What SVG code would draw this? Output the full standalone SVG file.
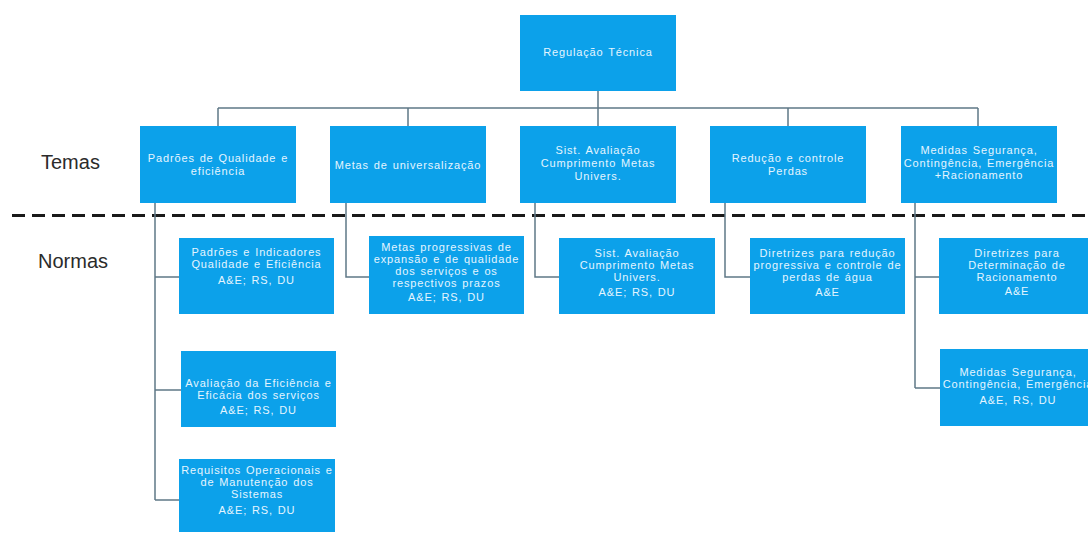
<svg xmlns="http://www.w3.org/2000/svg" width="1088" height="538" viewBox="0 0 1088 538">
  <style>
    .box { fill: #0ca1ea; }
    .t { font-family: "Liberation Sans", Arial, sans-serif; font-size: 11px; fill: #e4f5ff; text-anchor: middle; letter-spacing: 0.85px; word-spacing: 1px; }
    .lbl { font-family: "Liberation Sans", Arial, sans-serif; font-size: 20px; fill: #2b2b2b; }
    .c { fill: none; stroke: #5f7886; stroke-width: 1.5; }
  </style>
  <rect width="1088" height="538" fill="#ffffff"/>

  <!-- row labels and separator -->
  <g id="labels">
    <text class="lbl" x="41" y="169">Temas</text>
    <text class="lbl" x="38" y="268">Normas</text>
    <line x1="12" y1="215.5" x2="1088" y2="215.5" stroke="#1a1a1a" stroke-width="3" stroke-dasharray="13 7"/>
  </g>

  <!-- connectors -->
  <g id="connectors">
    <path class="c" d="M598 91 V108 M218 108 H978 M218 108 V126 M408 108 V126 M598 108 V126 M788 108 V126 M978 108 V126"/>
    <path class="c" d="M155 203 V500 M155 277 H179 M155 390 H181 M155 500 H179"/>
    <path class="c" d="M346 203 V277 H369"/>
    <path class="c" d="M535 203 V277 H559"/>
    <path class="c" d="M725 203 V277 H750"/>
    <path class="c" d="M915 203 V388 M915 277 H939 M915 388 H940"/>
  </g>

  <!-- root -->
  <g id="regulacao">
    <rect class="box" x="520" y="15" width="156" height="76"/>
    <text class="t" x="598" y="56">Regulação Técnica</text>
  </g>

  <!-- temas -->
  <g id="tema-padroes">
    <rect class="box" x="140" y="126" width="156" height="77"/>
    <text class="t" x="218" y="162">Padrões de Qualidade e</text>
    <text class="t" x="218" y="175">eficiência</text>
  </g>
  <g id="tema-metas">
    <rect class="box" x="330" y="126" width="156" height="77"/>
    <text class="t" x="408" y="169">Metas de universalização</text>
  </g>
  <g id="tema-sist">
    <rect class="box" x="520" y="126" width="156" height="77"/>
    <text class="t" x="598" y="154">Sist. Avaliação</text>
    <text class="t" x="598" y="167">Cumprimento  Metas</text>
    <text class="t" x="598" y="180">Univers.</text>
  </g>
  <g id="tema-perdas">
    <rect class="box" x="710" y="126" width="156" height="77"/>
    <text class="t" x="788" y="162">Redução e controle</text>
    <text class="t" x="788" y="175">Perdas</text>
  </g>
  <g id="tema-medidas">
    <rect class="box" x="901" y="126" width="156" height="77"/>
    <text class="t" x="979" y="154">Medidas Segurança,</text>
    <text class="t" x="979" y="167">Contingência, Emergência</text>
    <text class="t" x="979" y="179">+Racionamento</text>
  </g>

  <!-- normas -->
  <g id="norma-indicadores">
    <rect class="box" x="179" y="238" width="155" height="76"/>
    <text class="t" x="256.5" y="256">Padrões e Indicadores</text>
    <text class="t" x="256.5" y="268">Qualidade e Eficiência</text>
    <text class="t" x="256.5" y="284">A&amp;E; RS, DU</text>
  </g>
  <g id="norma-avaliacao">
    <rect class="box" x="181" y="351" width="155" height="76"/>
    <text class="t" x="258.5" y="387">Avaliação da Eficiência e</text>
    <text class="t" x="258.5" y="399">Eficácia dos serviços</text>
    <text class="t" x="258.5" y="414">A&amp;E; RS, DU</text>
  </g>
  <g id="norma-requisitos">
    <rect class="box" x="179" y="459" width="156" height="73"/>
    <text class="t" x="257" y="474">Requisitos Operacionais e</text>
    <text class="t" x="257" y="486">de Manutenção dos</text>
    <text class="t" x="257" y="498">Sistemas</text>
    <text class="t" x="257" y="514">A&amp;E; RS, DU</text>
  </g>
  <g id="norma-metas">
    <rect class="box" x="369" y="236" width="155" height="78"/>
    <text class="t" x="446.5" y="251">Metas progressivas de</text>
    <text class="t" x="446.5" y="263">expansão  e de qualidade</text>
    <text class="t" x="446.5" y="275">dos serviços e os</text>
    <text class="t" x="446.5" y="287">respectivos prazos</text>
    <text class="t" x="446.5" y="301">A&amp;E; RS, DU</text>
  </g>
  <g id="norma-sist">
    <rect class="box" x="559" y="238" width="156" height="76"/>
    <text class="t" x="637" y="257">Sist. Avaliação</text>
    <text class="t" x="637" y="269">Cumprimento  Metas</text>
    <text class="t" x="637" y="281">Univers.</text>
    <text class="t" x="637" y="296">A&amp;E; RS, DU</text>
  </g>
  <g id="norma-perdas">
    <rect class="box" x="750" y="238" width="155" height="76"/>
    <text class="t" x="827.5" y="257">Diretrizes para redução</text>
    <text class="t" x="827.5" y="269">progressiva  e controle de</text>
    <text class="t" x="827.5" y="281">perdas de água</text>
    <text class="t" x="827.5" y="296">A&amp;E</text>
  </g>
  <g id="norma-racionamento">
    <rect class="box" x="939" y="238" width="156" height="76"/>
    <text class="t" x="1017" y="257">Diretrizes para</text>
    <text class="t" x="1017" y="269">Determinação de</text>
    <text class="t" x="1017" y="281">Racionamento</text>
    <text class="t" x="1017" y="295">A&amp;E</text>
  </g>
  <g id="norma-medidas">
    <rect class="box" x="940" y="349" width="156" height="77"/>
    <text class="t" x="1018" y="376">Medidas Segurança,</text>
    <text class="t" x="1018" y="388">Contingência, Emergência</text>
    <text class="t" x="1018" y="404">A&amp;E, RS, DU</text>
  </g>
</svg>
